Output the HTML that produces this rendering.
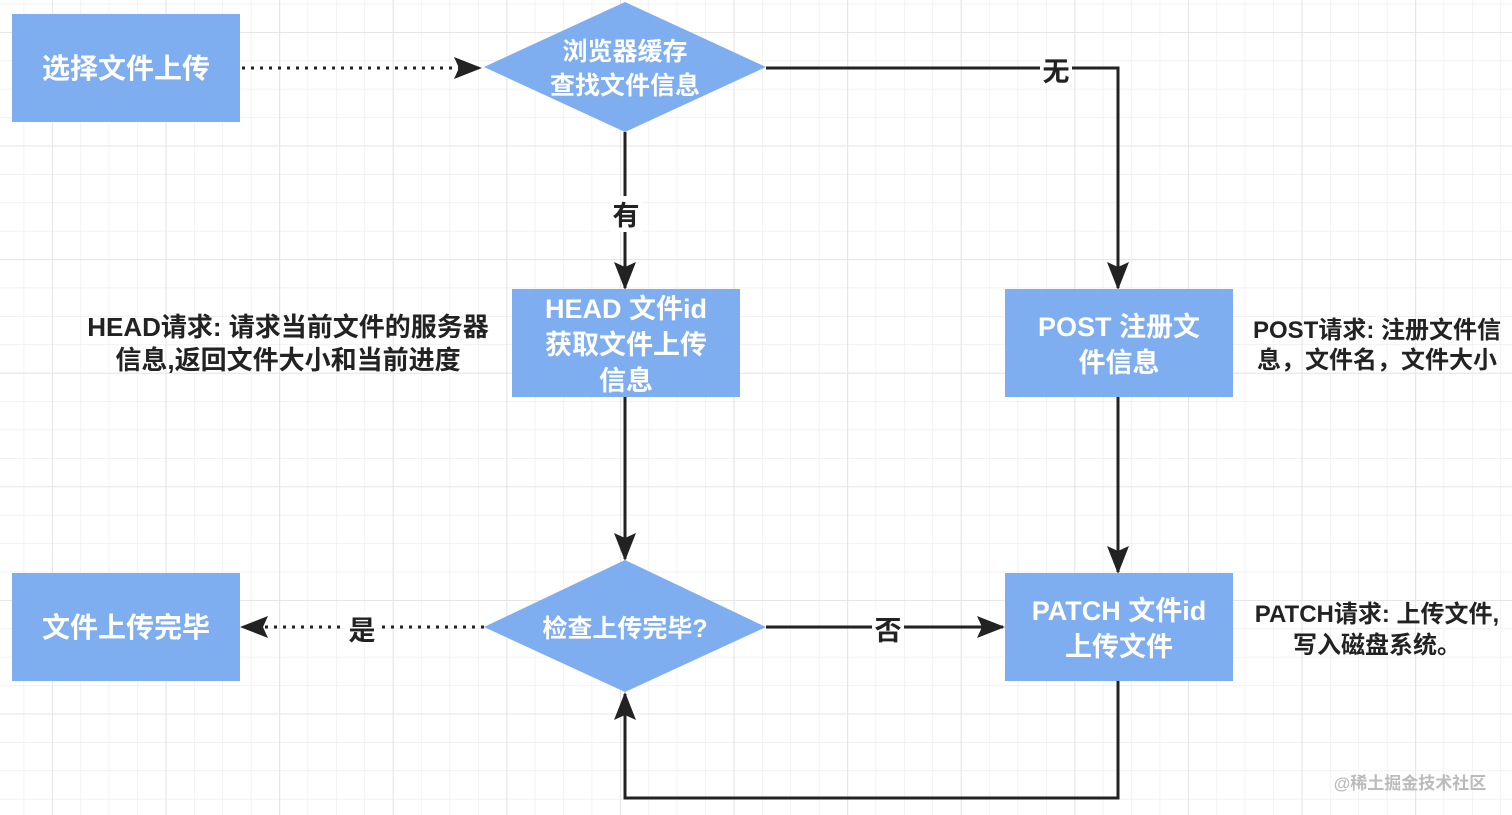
<!DOCTYPE html>
<html><head><meta charset="utf-8"><style>
html,body{margin:0;padding:0;width:1512px;height:815px;overflow:hidden;background:#fff}
svg{display:block}
text{font-family:"Liberation Sans","Noto Sans CJK SC",sans-serif;font-weight:bold}
</style></head><body>
<svg width="1512" height="815" viewBox="0 0 1512 815" xmlns="http://www.w3.org/2000/svg">
<defs>
<pattern id="g" width="28.4" height="28.4" patternUnits="userSpaceOnUse" x="23.6" y="3.6">
<path d="M0 0H28.4M0 0V28.4" stroke="#ebebeb" stroke-width="1.2" fill="none"/>
</pattern>
<pattern id="G" width="113.6" height="113.6" patternUnits="userSpaceOnUse" x="52" y="32">
<path d="M0 0H113.6M0 0V113.6" stroke="#e0e0e0" stroke-width="1.6" fill="none"/>
</pattern>
<marker id="a" markerWidth="28" markerHeight="22" refX="26" refY="11" orient="auto" markerUnits="userSpaceOnUse">
<path d="M0 0L28 11L0 22L5 11Z" fill="#222"/>
</marker>
</defs>
<rect width="1512" height="815" fill="url(#g)"/>
<rect width="1512" height="815" fill="url(#G)"/>
<g stroke="#222" stroke-width="3" fill="none">
<path d="M242 68H480" stroke-dasharray="3 6" marker-end="url(#a)"/>
<path d="M766 68H1118V288" marker-end="url(#a)"/>
<path d="M625 132V288" marker-end="url(#a)"/>
<path d="M625 397V559" marker-end="url(#a)"/>
<path d="M1118 397V572" marker-end="url(#a)"/>
<path d="M766 627H1003" marker-end="url(#a)"/>
<path d="M484 627H242" stroke-dasharray="3 6" marker-end="url(#a)"/>
<path d="M1118 681V798H625V694" marker-end="url(#a)"/>
</g>
<g fill="#7eadf0">
<rect x="12" y="14" width="228" height="108"/>
<rect x="512" y="289" width="228" height="108"/>
<rect x="1005" y="289" width="228" height="108"/>
<rect x="12" y="573" width="228" height="108"/>
<rect x="1005" y="573" width="228" height="108"/>
<path d="M625 2L766 67L625 132L484 67Z"/>
<path d="M625 560L766 627L625 692L484 627Z"/>
</g>
<g fill="#fff">
<rect x="1040" y="54" width="32" height="32"/>
<rect x="610" y="196" width="32" height="36"/>
<rect x="872" y="612" width="32" height="32"/>
<rect x="346" y="612" width="32" height="32"/>
</g>
<g fill="#fff" font-size="28" text-anchor="middle">
<text x="126" y="78">选择文件上传</text>
<text x="625" y="60" font-size="25">浏览器缓存</text>
<text x="625" y="94" font-size="25">查找文件信息</text>
<text x="626" y="318" font-size="27">HEAD 文件id</text>
<text x="626" y="354" font-size="27">获取文件上传</text>
<text x="626" y="390" font-size="27">信息</text>
<text x="1119" y="336" font-size="27">POST 注册文</text>
<text x="1119" y="372" font-size="27">件信息</text>
<text x="126" y="637">文件上传完毕</text>
<text x="625" y="637" font-size="25">检查上传完毕?</text>
<text x="1119" y="620" font-size="27">PATCH 文件id</text>
<text x="1119" y="656" font-size="27">上传文件</text>
</g>
<g fill="#222" font-size="27" text-anchor="middle">
<text x="1056" y="81">无</text>
<text x="626" y="225">有</text>
<text x="888" y="640">否</text>
<text x="362" y="640">是</text>
</g>
<g fill="#222" font-size="24" text-anchor="middle">
<text x="288" y="336" font-size="26">HEAD请求: 请求当前文件的服务器</text>
<text x="288" y="369" font-size="26">信息,返回文件大小和当前进度</text>
<text x="1377" y="338">POST请求: 注册文件信</text>
<text x="1377" y="368">息，文件名，文件大小</text>
<text x="1377" y="622">PATCH请求: 上传文件,</text>
<text x="1377" y="653">写入磁盘系统。</text>
</g>
<text x="1410" y="789" fill="#bbb" font-size="17" font-weight="normal" text-anchor="middle">@稀土掘金技术社区</text>
</svg>
</body></html>
